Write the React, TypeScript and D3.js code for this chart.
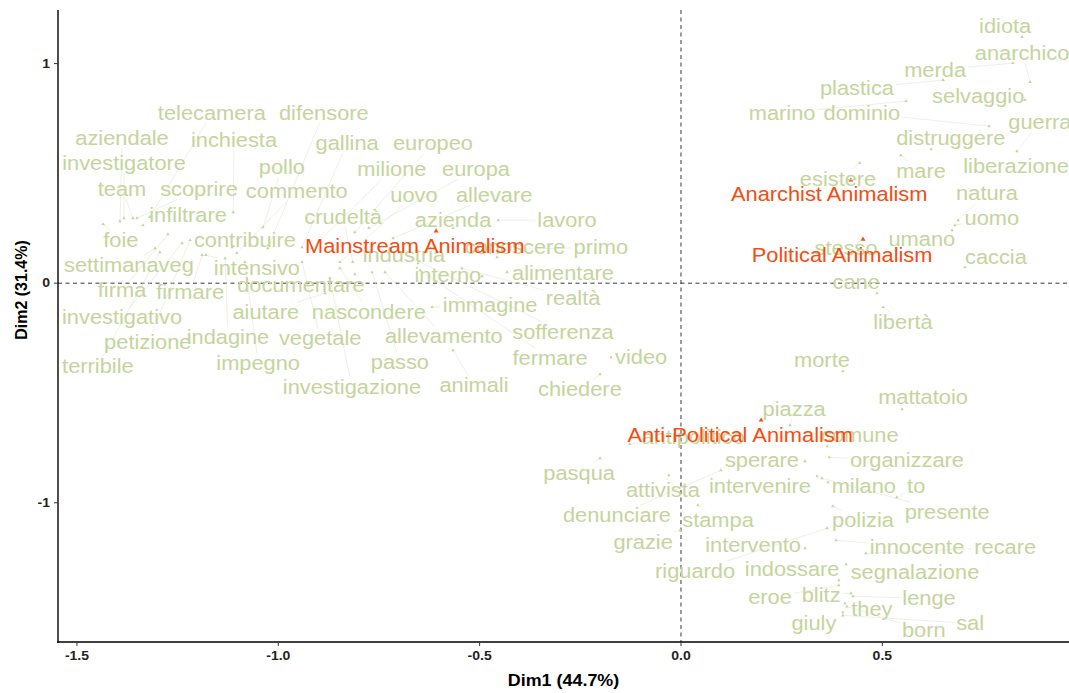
import React from "react";
import * as d3 from "d3";

// CA biplot: row words (green) and column categories (red)
// points = coordinates on Dim1 / Dim2, labels placed where the repel layout put them

type Pt = [string, number, number];

const leftWords: Pt[] = [
  ["telecamera", -1.319, 0.301], ["difensore", -1.026, 0.159], ["aziendale", -1.393, 0.282],
  ["inchiesta", -1.112, 0.323], ["gallina", -0.941, 0.164], ["europeo", -0.81, 0.232],
  ["investigatore", -1.383, 0.296], ["pollo", -1.038, 0.255], ["milione", -0.916, 0.159],
  ["europa", -0.775, 0.251], ["team", -1.361, 0.296], ["scoprire", -1.351, 0.296],
  ["commento", -1.103, 0.137], ["uovo", -0.847, 0.096], ["allevare", -0.715, 0.205],
  ["infiltrare", -1.336, 0.264], ["crudeltà", -0.815, 0.096], ["azienda", -0.566, 0.251],
  ["lavoro", -0.454, 0.287], ["foie", -1.435, 0.269], ["contribuire", -1.115, 0.164],
  ["conoscere", -0.457, 0.118], ["primo", -0.494, 0.15], ["industria", -0.653, 0.091],
  ["settimanaveg", -1.306, 0.159], ["intensivo", -1.18, 0.128], ["alimentare", -0.432, 0.05],
  ["interno", -0.494, 0.032], ["firma", -1.274, 0.223], ["firmare", -1.189, 0.128],
  ["documentare", -0.81, 0.041], ["realtà", -0.544, 0.068], ["immagine", -0.618, -0.109],
  ["investigativo", -1.239, 0.182], ["aiutare", -0.884, -0.046], ["nascondere", -0.847, 0.068],
  ["sofferenza", -0.698, 0.141], ["petizione", -1.219, 0.196], ["indagine", -1.132, 0.114],
  ["vegetale", -0.941, 0.096], ["allevamento", -0.735, 0.05], ["fermare", -0.648, 0.059],
  ["video", -0.174, -0.337], ["terribile", -1.294, 0.141], ["impegno", -1.083, 0.096],
  ["passo", -0.767, 0.05], ["chiedere", -0.201, -0.415], ["investigazione", -0.872, 0.023],
  ["animali", -0.566, -0.305],
];

const upperRightWords: Pt[] = [
  ["idiota", 0.847, 1.121], ["anarchico", 0.867, 0.916], ["merda", 0.824, 1.002],
  ["plastica", 0.651, 0.925], ["selvaggio", 0.854, 0.834], ["marino", 0.559, 0.829],
  ["dominio", 0.765, 0.715], ["guerra", 0.834, 0.601], ["distruggere", 0.621, 0.61],
  ["mare", 0.546, 0.583], ["liberazione", 0.78, 0.506], ["esistere", 0.444, 0.547],
  ["natura", 0.688, 0.287], ["uomo", 0.68, 0.264], ["umano", 0.673, 0.241],
  ["stesso", 0.44, 0.15], ["caccia", 0.705, 0.073], ["cane", 0.487, -0.046],
  ["libertà", 0.502, -0.109],
];

const lowerRightWords: Pt[] = [
  ["morte", 0.402, -0.401], ["mattatoio", 0.549, -0.574], ["piazza", 0.271, -0.647],
  ["antipolitico", -0.127, -0.733], ["comune", 0.363, -0.743], ["sperare", 0.308, -0.811],
  ["organizzare", 0.368, -0.793], ["pasqua", -0.201, -0.797], ["attivista", -0.03, -0.875],
  ["intervenire", 0.338, -0.879], ["milano", 0.365, -0.907], ["to", 0.536, -0.975],
  ["presente", 0.35, -0.888], ["denunciare", 0.099, -0.852], ["stampa", 0.042, -1.011],
  ["polizia", 0.377, -1.016], ["grazie", -0.002, -1.125], ["intervento", 0.308, -1.207],
  ["innocente", 0.385, -1.171], ["recare", 0.459, -1.23], ["riguardo", 0.363, -1.116],
  ["indossare", 0.392, -1.353], ["segnalazione", 0.41, -1.28], ["eroe", 0.392, -1.376],
  ["blitz", 0.422, -1.412], ["lenge", 0.427, -1.426], ["they", 0.407, -1.458],
  ["giuly", 0.402, -1.499], ["born", 0.412, -1.472], ["sal", 0.402, -1.513],
];

const categories: Pt[] = [
  ["Mainstream Animalism", -0.608, 0.237],
  ["Anarchist Animalism", 0.422, 0.469],
  ["Political Animalism", 0.452, 0.2],
  ["Anti-Political Animalism", 0.199, -0.624],
];

// where the repelled labels ended up (Dim1, Dim2)
const repelLabels: Record<string, [number, number]> = {
  telecamera: [-1.165, 0.775], difensore: [-0.887, 0.775], aziendale: [-1.388, 0.661],
  inchiesta: [-1.11, 0.651], gallina: [-0.829, 0.638], europeo: [-0.616, 0.638],
  investigatore: [-1.383, 0.547], pollo: [-0.991, 0.528], milione: [-0.718, 0.519],
  europa: [-0.509, 0.519], team: [-1.388, 0.428], scoprire: [-1.197, 0.428],
  commento: [-0.954, 0.419], uovo: [-0.663, 0.401], allevare: [-0.464, 0.401],
  infiltrare: [-1.224, 0.31], crudeltà: [-0.839, 0.301], azienda: [-0.566, 0.287],
  lavoro: [-0.283, 0.287], foie: [-1.391, 0.196], contribuire: [-1.083, 0.196],
  conoscere: [-0.412, 0.164], primo: [-0.199, 0.164], industria: [-0.688, 0.128],
  settimanaveg: [-1.371, 0.082], intensivo: [-1.053, 0.068], alimentare: [-0.293, 0.046],
  interno: [-0.579, 0.036], firma: [-1.388, -0.032], firmare: [-1.219, -0.041],
  documentare: [-0.944, -0.009], realtà: [-0.268, -0.068], immagine: [-0.474, -0.1],
  investigativo: [-1.388, -0.155], aiutare: [-1.031, -0.132], nascondere: [-0.775, -0.132],
  sofferenza: [-0.293, -0.223], petizione: [-1.324, -0.269], indagine: [-1.125, -0.246],
  vegetale: [-0.896, -0.251], allevamento: [-0.589, -0.241], fermare: [-0.325, -0.342],
  video: [-0.099, -0.337], terribile: [-1.448, -0.378], impegno: [-1.05, -0.364],
  passo: [-0.698, -0.36], chiedere: [-0.251, -0.483], investigazione: [-0.817, -0.474],
  animali: [-0.514, -0.465],

  idiota: [0.805, 1.171], anarchico: [0.847, 1.048], merda: [0.631, 0.97],
  plastica: [0.437, 0.888], selvaggio: [0.738, 0.852], marino: [0.251, 0.775],
  dominio: [0.449, 0.775], guerra: [0.891, 0.733], distruggere: [0.67, 0.661],
  mare: [0.596, 0.51], liberazione: [0.832, 0.533], esistere: [0.39, 0.474],
  natura: [0.76, 0.41], uomo: [0.772, 0.296], umano: [0.598, 0.2],
  stesso: [0.41, 0.159], caccia: [0.782, 0.118], cane: [0.435, 0.005],
  libertà: [0.551, -0.178],

  morte: [0.35, -0.351], mattatoio: [0.601, -0.519], piazza: [0.281, -0.574],
  antipolitico: [0.03, -0.702], comune: [0.444, -0.692], sperare: [0.201, -0.806],
  organizzare: [0.561, -0.806], pasqua: [-0.253, -0.866], attivista: [-0.045, -0.943],
  intervenire: [0.196, -0.925], milano: [0.454, -0.925], to: [0.584, -0.925],
  presente: [0.661, -1.043], denunciare: [-0.159, -1.057], stampa: [0.092, -1.08],
  polizia: [0.452, -1.08], grazie: [-0.094, -1.18], intervento: [0.179, -1.194],
  innocente: [0.586, -1.203], recare: [0.805, -1.203], riguardo: [0.035, -1.312],
  indossare: [0.276, -1.303], segnalazione: [0.581, -1.317], eroe: [0.221, -1.431],
  blitz: [0.348, -1.421], lenge: [0.616, -1.435], they: [0.474, -1.485],
  giuly: [0.33, -1.549], born: [0.603, -1.581], sal: [0.718, -1.549],

  "Mainstream Animalism": [-0.661, 0.169],
  "Anarchist Animalism": [0.368, 0.405],
  "Political Animalism": [0.4, 0.128],
  "Anti-Political Animalism": [0.147, -0.692],
};

const xTicks = [-1.5, -1.0, -0.5, 0.0, 0.5];
const yTicks = [-1, 0, 1];
const xTitle = "Dim1 (44.7%)";
const yTitle = "Dim2 (31.4%)";

const W = 1069;
const H = 693;
const margin = { top: 10, right: 0, bottom: 51, left: 58 };
const GREEN = "#c4d59c";
const RED = "#f64c12";
const FONT = '"Liberation Sans", Arial, Helvetica, sans-serif';
const STRETCH = 1.12; // picture is a bit wider than tall
const labelSize = 19.5;

let ctx: CanvasRenderingContext2D | null = null;
function textWidth(s: string, size: number) {
  if (!ctx) ctx = document.createElement("canvas").getContext("2d");
  if (!ctx) return s.length * size * 0.5;
  ctx.font = `${size}px ${FONT}`;
  return ctx.measureText(s).width * STRETCH;
}

// ggplot prints a plain hyphen for negatives
const fmtX = (v: number) => d3.format(".1f")(v).replace("\u2212", "-");
const fmtY = (v: number) => d3.format("d")(v).replace("\u2212", "-");

export default function App() {
  const x = d3.scaleLinear().domain([-1.547, 0.9635]).range([margin.left, W - margin.right]);
  const y = d3.scaleLinear().domain([-1.634, 1.244]).range([H - margin.bottom, margin.top]);

  const words = [...leftWords, ...upperRightWords, ...lowerRightWords];
  const tri = d3.symbol().type(d3.symbolTriangle);

  const segment = (d: Pt) => {
    const [lx0, ly0] = repelLabels[d[0]];
    const lx = x(lx0), ly = y(ly0);
    const px = x(d[1]), py = y(d[2]);
    const hw = textWidth(d[0], labelSize) / 2 + 2;
    const hh = 10;
    const dx = px - lx, dy = py - ly;
    if (Math.abs(dx) <= hw && Math.abs(dy) <= hh) return null;
    const t = Math.min(dx === 0 ? Infinity : hw / Math.abs(dx), dy === 0 ? Infinity : hh / Math.abs(dy));
    const sx = lx + dx * t, sy = ly + dy * t;
    if (Math.hypot(px - sx, py - sy) < 5) return null;
    return <line key={"s" + d[0]} x1={sx} y1={sy} x2={px} y2={py} stroke="#e0e5d5" strokeWidth={0.6} />;
  };

  const label = (d: Pt, color: string) => {
    const [lx, ly] = repelLabels[d[0]];
    return (
      <text
        key={"t" + d[0]}
        transform={`translate(${x(lx)},${y(ly)}) scale(${STRETCH},1)`}
        textAnchor="middle"
        dominantBaseline="central"
        fontSize={labelSize}
        fill={color}
      >
        {d[0]}
      </text>
    );
  };

  const x0 = margin.left;
  const x1 = W - margin.right;
  const y0 = margin.top;
  const y1 = H - margin.bottom;

  return (
    <svg width={W} height={H} style={{ position: "absolute", left: 0, top: 0, background: "#fff" }} fontFamily={FONT}>
      <rect width={W} height={H} fill="#fff" />

      {/* zero lines */}
      <line x1={x0} x2={x1} y1={y(0)} y2={y(0)} stroke="#222" strokeWidth={0.9} strokeDasharray="4,3.5" />
      <line x1={x(0)} x2={x(0)} y1={y0} y2={y1} stroke="#222" strokeWidth={0.9} strokeDasharray="4,3.5" />

      <g>{words.map(segment)}</g>
      <g>{categories.map(segment)}</g>

      <g fill={GREEN}>
        {words.map((d) => (
          <path key={"p" + d[0]} d={tri.size(5)() || ""} transform={`translate(${x(d[1])},${y(d[2])})`} />
        ))}
      </g>
      <g fill={RED}>
        {categories.map((d) => (
          <path key={"p" + d[0]} d={tri.size(10)() || ""} transform={`translate(${x(d[1])},${y(d[2])})`} />
        ))}
      </g>

      <g>{words.map((d) => label(d, GREEN))}</g>
      <g>{categories.map((d) => label(d, RED))}</g>

      {/* axes */}
      <line x1={x0} x2={x0} y1={y0} y2={y1 + 0.7} stroke="#000" strokeWidth={1.4} />
      <line x1={x0 - 0.7} x2={x1} y1={y1} y2={y1} stroke="#000" strokeWidth={1.4} />

      {xTicks.map((t) => (
        <g key={"xt" + t}>
          <line x1={x(t)} x2={x(t)} y1={y1} y2={y1 + 4} stroke="#333" strokeWidth={1} />
          <text
            transform={`translate(${x(t)},${y1 + 14}) scale(${STRETCH},1)`}
            textAnchor="middle"
            dominantBaseline="central"
            fontSize={12.5}
            fontWeight="bold"
            fill="#222"
          >
            {fmtX(t)}
          </text>
        </g>
      ))}
      {yTicks.map((t) => (
        <g key={"yt" + t}>
          <line x1={x0 - 4} x2={x0} y1={y(t)} y2={y(t)} stroke="#333" strokeWidth={1} />
          <text
            transform={`translate(${x0 - 8},${y(t)}) scale(${STRETCH},1)`}
            textAnchor="end"
            dominantBaseline="central"
            fontSize={12.5}
            fontWeight="bold"
            fill="#222"
          >
            {fmtY(t)}
          </text>
        </g>
      ))}

      <text
        transform={`translate(${(x0 + x1) / 2},${y1 + 39}) scale(${STRETCH},1)`}
        textAnchor="middle"
        dominantBaseline="central"
        fontSize={16}
        fontWeight="bold"
        fill="#000"
      >
        {xTitle}
      </text>
      <text
        transform={`translate(21,${290}) rotate(-90)`}
        textAnchor="middle"
        dominantBaseline="central"
        fontSize={16}
        fontWeight="bold"
        fill="#000"
      >
        {yTitle}
      </text>
    </svg>
  );
}
